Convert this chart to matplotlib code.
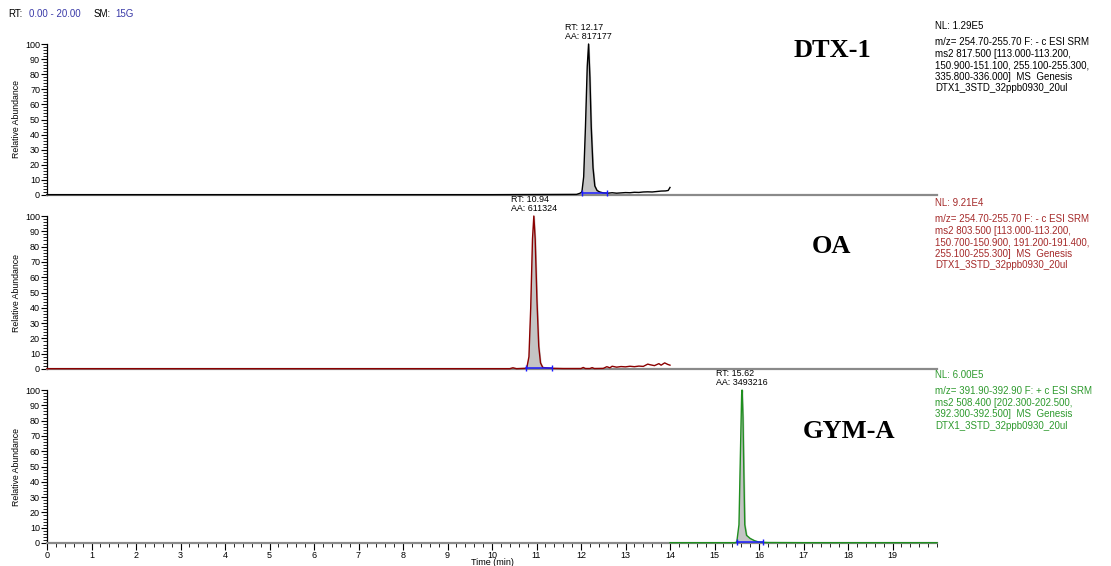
import numpy as np
import matplotlib.pyplot as plt
from matplotlib.ticker import MultipleLocator

plt.rcParams['font.family'] = ['Liberation Sans', 'DejaVu Sans']

# chromatogram points (time in min, relative abundance)
dtx_t = [0.0, 2.0, 4.0, 6.0, 8.0, 10.0, 11.0, 11.9, 11.98, 12.02, 12.06, 12.10, 12.14, 12.17,
         12.20, 12.23, 12.27, 12.31, 12.36, 12.42, 12.5, 12.6, 12.7, 12.8, 12.9, 13.0, 13.1,
         13.2, 13.3, 13.4, 13.5, 13.6, 13.7, 13.8, 13.9, 13.96, 14.0]
dtx_y = [0.2, 0.2, 0.2, 0.2, 0.2, 0.2, 0.3, 0.4, 1.2, 2.0, 12, 45, 85, 100,
         78, 45, 18, 6, 3.0, 2.0, 1.4, 1.2, 1.5, 1.2, 1.4, 1.6, 1.5,
         1.8, 1.7, 2.0, 2.1, 2.0, 2.3, 2.6, 2.7, 3.0, 5.0]

oa_t = [0.0, 2.0, 4.0, 6.0, 8.0, 10.0, 10.4, 10.47, 10.55, 10.78, 10.83, 10.87, 10.91, 10.94,
        10.97, 11.01, 11.05, 11.09, 11.14, 11.3, 11.6, 12.0, 12.05, 12.1, 12.2, 12.25, 12.3,
        12.5, 12.58, 12.65, 12.7, 12.8, 12.9, 13.0, 13.1, 13.2, 13.3, 13.4, 13.5, 13.55,
        13.65, 13.75, 13.8, 13.88, 13.95, 14.0]
oa_y = [0.2, 0.2, 0.2, 0.2, 0.2, 0.2, 0.2, 0.8, 0.2, 0.5, 8, 40, 85, 100,
        85, 45, 15, 4, 1.0, 0.5, 0.3, 0.3, 1.0, 0.3, 0.3, 0.9, 0.3,
        0.4, 1.5, 0.8, 1.8, 1.2, 1.6, 1.4, 1.8, 1.5, 1.9, 1.7, 3.2, 2.8,
        2.2, 3.5, 2.5, 4.0, 3.0, 2.5]

gym_t = [14.0, 14.5, 15.0, 15.45, 15.5, 15.55, 15.58, 15.61, 15.62, 15.64, 15.66, 15.68,
         15.72, 15.8, 15.9, 16.0, 16.2, 17.0, 18.0, 19.0, 20.0]
gym_y = [0.2, 0.2, 0.2, 0.2, 0.5, 12, 55, 97, 100, 82, 45, 12,
         5, 3, 1.5, 0.6, 0.3, 0.2, 0.2, 0.2, 0.2]

# integration baselines (start, end, level)
dtx_base = [12.02, 12.58, 1.0]
oa_base = [10.76, 11.35, 0.5]
gym_base = [15.50, 16.08, 0.5]

peaks = [
    dict(t=dtx_t, y=dtx_y, base=dtx_base, rt='12.17', aa='817177', color='black',
         txtcolor='black', name='DTX-1', name_x=17.65, name_y=96, nl_off=18, mz_off=7,
         info=['NL: 1.29E5',
               'm/z= 254.70-255.70 F: - c ESI SRM',
               'ms2 817.500 [113.000-113.200,',
               '150.900-151.100, 255.100-255.300,',
               '335.800-336.000]  MS  Genesis',
               'DTX1_3STD_32ppb0930_20ul']),
    dict(t=oa_t, y=oa_y, base=oa_base, rt='10.94', aa='611324', color='#8b0000',
         txtcolor='#a52a2a', name='OA', name_x=17.62, name_y=80, nl_off=13, mz_off=2,
         info=['NL: 9.21E4',
               'm/z= 254.70-255.70 F: - c ESI SRM',
               'ms2 803.500 [113.000-113.200,',
               '150.700-150.900, 191.200-191.400,',
               '255.100-255.300]  MS  Genesis',
               'DTX1_3STD_32ppb0930_20ul']),
    dict(t=gym_t, y=gym_y, base=gym_base, rt='15.62', aa='3493216', color='#1f8f1f',
         txtcolor='#2e9a2e', name='GYM-A', name_x=18.03, name_y=73, nl_off=15, mz_off=4,
         info=['NL: 6.00E5',
               'm/z= 391.90-392.90 F: + c ESI SRM',
               'ms2 508.400 [202.300-202.500,',
               '392.300-392.500]  MS  Genesis',
               'DTX1_3STD_32ppb0930_20ul']),
]

W, H = 1111, 566
fig = plt.figure(figsize=(W / 100, H / 100), dpi=100)

boxes = [(44, 195), (216, 369), (390, 543)]
ax_left, ax_right = 47, 937

hdr = 1 - 14 / H
fig.text(8 / W, hdr, 'RT:', fontsize=7, va='center')
fig.text(29 / W, hdr, '0.00 - 20.00', fontsize=7, va='center', color='#3a3aa8')
fig.text(94 / W, hdr, 'SM:', fontsize=7, va='center')
fig.text(115 / W, hdr, '15G', fontsize=7, va='center', color='#3a3aa8')

for i, (p, (top, bot)) in enumerate(zip(peaks, boxes)):
    ax = fig.add_axes([ax_left / W, 1 - bot / H, (ax_right - ax_left) / W, (bot - top) / H])
    t = np.array(p['t'])
    y = np.array(p['y'])
    ax.set_xlim(0, 20)
    ax.set_ylim(0, 100)
    for s in ['top', 'right']:
        ax.spines[s].set_visible(False)
    ax.spines['bottom'].set_color('#8a8a8a')
    ax.spines['bottom'].set_linewidth(1.6)
    ax.spines['left'].set_linewidth(0.9)

    b0, b1, bl = p['base']
    m = (t >= b0) & (t <= b1)
    ax.fill_between(t[m], bl, y[m], color='#c4c4c4', zorder=2)
    ax.plot(t, y, color=p['color'], lw=1.0, zorder=3, clip_on=False)
    ax.plot([b0, b1], [bl, bl], color='#1a1aff', lw=1.1, zorder=4,
            marker='|', markersize=5, markeredgewidth=1.0, clip_on=False)

    ax.annotate('RT: %s\nAA: %s' % (p['rt'], p['aa']), xy=(float(t[np.argmax(y)]), 100),
                xytext=(0, 2), textcoords='offset points', ha='center', va='bottom',
                fontsize=6.4, multialignment='left', linespacing=1.1, annotation_clip=False)

    ax.text(p['name_x'], p['name_y'], p['name'], fontsize=19, fontweight='bold',
            family='Liberation Serif', ha='center', va='center')

    fig.text(935 / W, 1 - (top - p['nl_off']) / H, p['info'][0], fontsize=7,
             color=p['txtcolor'], va='center')
    fig.text(935 / W, 1 - (top - p['mz_off']) / H, '\n'.join(p['info'][1:]), fontsize=7,
             color=p['txtcolor'], va='top', linespacing=1.2)

    ax.yaxis.set_major_locator(MultipleLocator(10))
    ax.yaxis.set_minor_locator(MultipleLocator(2))
    ax.tick_params(axis='y', which='major', length=4, width=0.8, labelsize=6.5, pad=1)
    ax.tick_params(axis='y', which='minor', length=3, width=0.6)
    ax.set_ylabel('Relative Abundance', fontsize=6.3, labelpad=3)

    if i == 2:
        ax.set_xticks(np.arange(0, 20, 1))
        ax.xaxis.set_minor_locator(MultipleLocator(0.2))
        ax.tick_params(axis='x', which='major', length=5, width=0.8, labelsize=6.5, pad=0.5)
        ax.tick_params(axis='x', which='minor', length=3, width=0.6)
        ax.set_xlabel('Time (min)', fontsize=6.5, labelpad=-1)
    else:
        ax.set_xticks([])

fig.savefig('out.png', dpi=100)
